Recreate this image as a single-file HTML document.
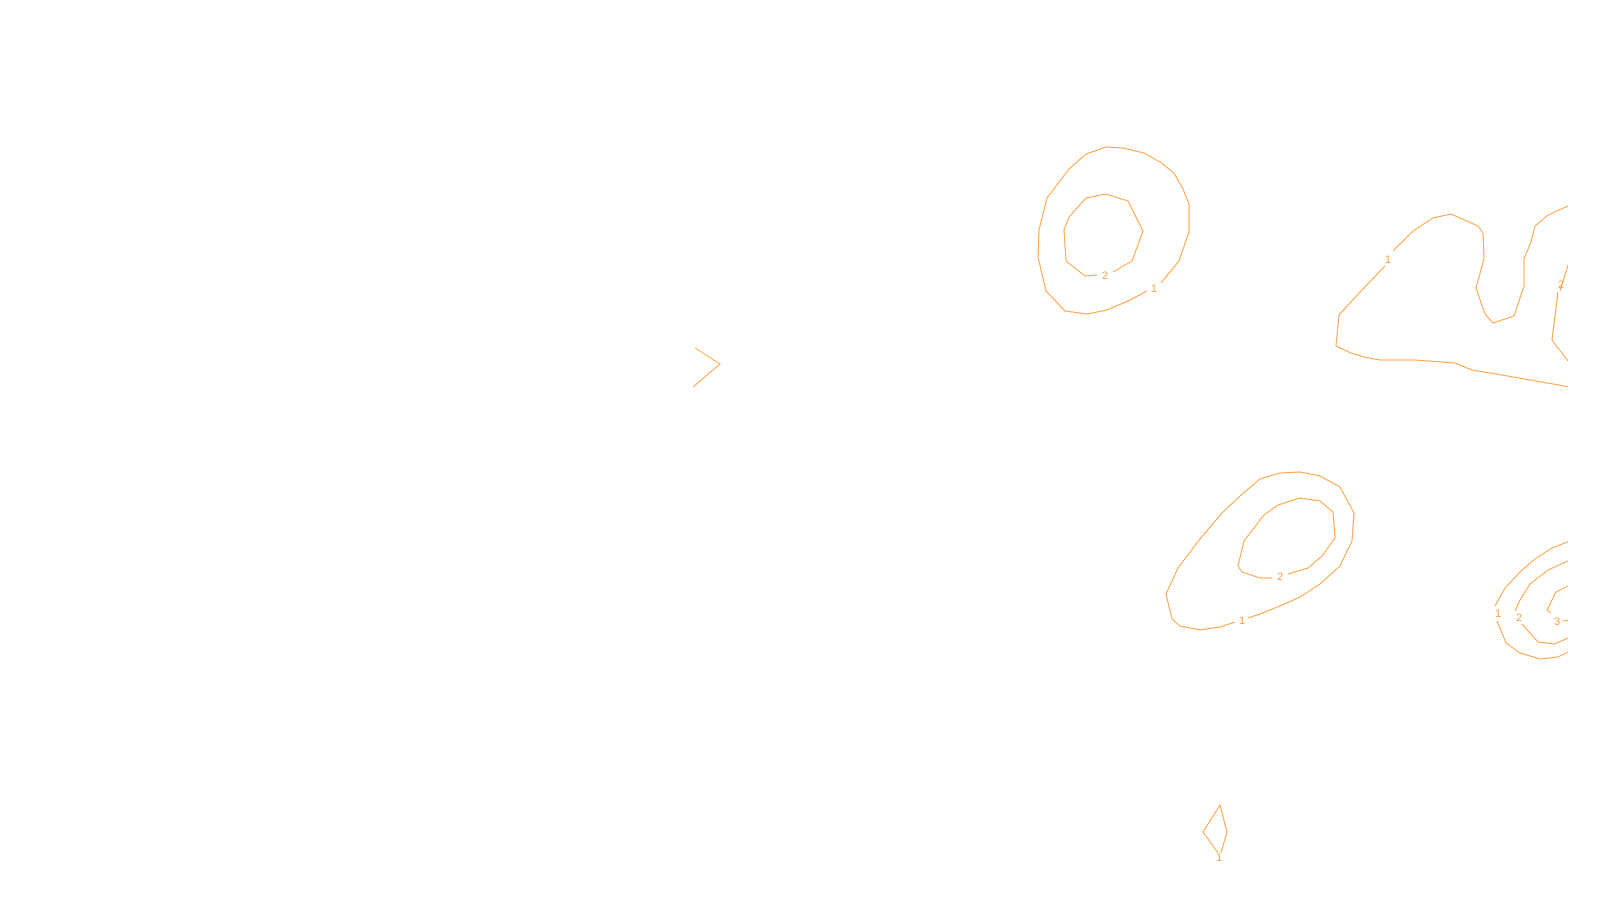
<!DOCTYPE html>
<html><head><style>html,body{margin:0;padding:0;background:#fff;width:1600px;height:900px;overflow:hidden}</style></head>
<body>
<svg width="1600" height="900" xmlns="http://www.w3.org/2000/svg">
<defs><clipPath id="c"><rect x="0" y="0" width="1568" height="900"/></clipPath></defs>
<g clip-path="url(#c)" fill="none" stroke="#ffa040" stroke-width="1" font-family="Liberation Sans, sans-serif">
<polyline points="695,348 720,364 693,387"/>
<polyline points="1147,291 1128,301 1107,310 1087,314 1065,311 1046,291 1038,257 1039,230 1047,198 1069,169 1086,154 1106,147 1123,148 1144,153 1160,162 1174,173 1183,189 1189,204 1189,232 1179,261 1161,283"/>
<polyline points="1097,275 1085,276 1066,261 1064,230 1069,217 1086,198 1106,194 1128,201 1143,231 1132,261 1113,272"/>
<polyline points="1385,266 1361,291 1339,315 1336,346 1351,353 1364,357 1380,360 1415,360 1455,363 1472,370 1496,374 1570,387"/>
<polyline points="1393,251 1413,231 1433,218 1451,214 1478,226 1483,233 1484,259 1476,288 1485,314 1493,323 1514,316 1524,286 1524,259 1531,242 1535,226 1548,215 1570,205"/>
<polyline points="1568,265 1560,291"/>
<polyline points="1558,292 1552,340 1568,361"/>
<polyline points="1235,622 1220,627 1200,630 1180,626 1172,619 1166,594 1178,568 1200,539 1222,513 1240,496 1260,479 1280,473 1300,472 1320,476 1340,487 1354,513 1352,541 1340,566 1320,584 1300,597 1280,606 1260,614 1248,618"/>
<polyline points="1272,578 1260,578 1242,572 1238,566 1244,541 1264,515 1278,505 1300,498 1320,501 1333,512 1335,538 1322,556 1308,568 1288,574"/>
<polyline points="1495,606 1505,588 1521,571 1535,559 1552,548 1570,541"/>
<polyline points="1497,621 1506,643 1520,653 1540,659 1558,657 1570,651"/>
<polyline points="1515,611 1520,600 1530,584 1548,570 1570,560"/>
<polyline points="1522,624 1538,642 1555,644 1570,637"/>
<polyline points="1551,613 1547,610 1556,592 1570,585"/>
<polyline points="1563,621 1570,620"/>
<polyline points="1218,853 1203,832 1220,805 1227,832 1221,853"/>
<g fill="#ffa040" stroke="none" font-size="11" text-anchor="middle">
<text x="1105" y="279">2</text>
<text x="1154" y="292">1</text>
<text x="1388" y="263">1</text>
<text x="1561" y="288">2</text>
<text x="1280" y="580">2</text>
<text x="1242" y="624">1</text>
<text x="1498" y="617">1</text>
<text x="1519" y="621">2</text>
<text x="1557" y="625">3</text>
<text x="1219" y="861">1</text>
</g>
</g>
</svg>
</body></html>
